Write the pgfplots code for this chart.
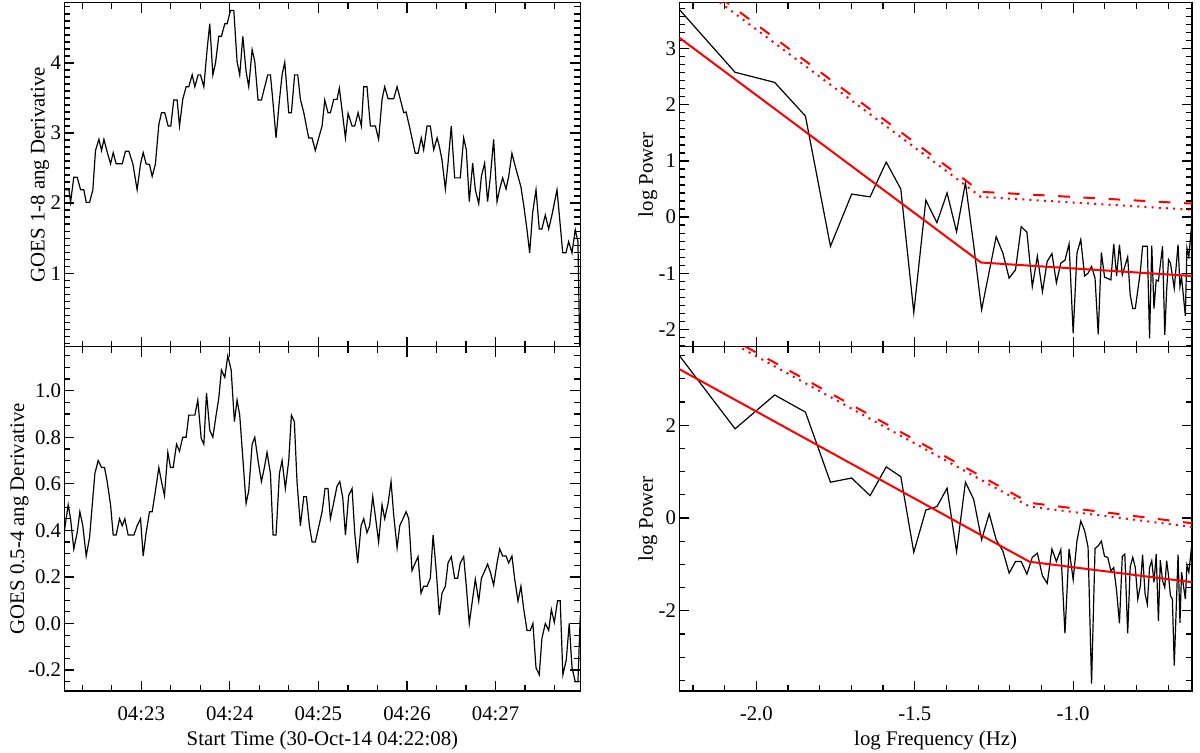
\documentclass[border=0pt]{standalone}
\usepackage{fontspec}
\setmainfont{Liberation Serif}
\usepackage{pgfplots}
\pgfplotsset{compat=1.18}
\pgfplotsset{
  panel/.style={
    scale only axis, anchor=south west,
    axis line style={line width=0.75pt},
    every tick/.style={black, line width=0.6pt},
    major tick length=5pt, minor tick length=3pt,
    tick align=inside,
    font=\fontsize{10.4}{12}\selectfont,
    yticklabel style={anchor=east, inner sep=0pt, xshift=-1.5pt},
    xticklabel style={anchor=base, inner sep=0pt, yshift=-14.5pt},
    xlabel style={at={(axis description cs:0.5,0)}, anchor=base, yshift=-27pt},
  },
  blk/.style={black, line width=0.6pt},
  fit/.style={red, line width=1pt},
  c95/.style={red, line width=1pt, dash pattern=on 5.8pt off 6.8pt},
  c99/.style={red, line width=1pt, dash pattern=on 1pt off 2.6pt},
}
\begin{document}
\begin{tikzpicture}
\path[use as bounding box] (0pt,0pt) rectangle (600pt,376pt);

% ---------------- left top ----------------
\begin{axis}[panel, at={(32.25pt,202.65pt)}, width=257.9pt, height=172pt,
  xmin=0, xmax=349.4, ymin=-0.05, ymax=4.86,
  xtick={52,112,172,232,292}, xticklabels={},
  minor xtick={12,32,72,92,132,152,192,212,252,272,312,332},
  ytick={1,2,3,4}, yticklabels={1,2,3,4},
  minor ytick={0,0.1,...,4.81},
  ylabel={GOES 1-8 ang Derivative},
  ylabel style={at={(axis description cs:-0.0475,0.5)}, anchor=center}]
\addplot[blk] coordinates {
(0,2.19)(3.0,2.19)(4.1,2.01)(6.3,2.37)(8.6,2.37)(10.9,2.19)(13.1,2.19)(14.7,2.01)(17.0,2.01)(19.2,2.19)
(21.0,2.75)(23.3,2.91)(25.1,2.75)(26.7,2.91)(28.9,2.73)(31.2,2.56)(33.0,2.72)(35.0,2.56)(39.1,2.56)(41.3,2.74)
(43.6,2.74)(46.3,2.56)(49.2,2.19)(51.5,2.56)(53.3,2.72)(55.3,2.56)(57.6,2.55)(59.4,2.38)(61.6,2.56)(63.9,3.12)
(65.7,3.29)(67.9,3.29)(70.2,3.10)(72.0,3.10)(74.0,3.47)(76.3,3.47)(77.9,3.10)(80.1,3.48)(82.4,3.66)(84.2,3.66)
(86.5,3.83)(88.3,3.66)(90.5,3.83)(92.1,3.83)(94.4,3.66)(96.6,4.19)(98.4,4.56)(100.5,3.83)(102.3,4.00)(104.5,4.38)
(106.3,4.38)(108.6,4.56)(110.2,4.56)(112.4,4.75)(114.7,4.75)(116.9,4.02)(118.7,3.83)(120.8,4.38)(123.0,3.88)(124.8,3.66)
(127.1,4.19)(128.9,4.02)(131.1,3.47)(133.4,3.47)(135.4,3.64)(137.7,3.83)(139.5,3.83)(141.1,3.47)(143.3,2.93)(145.6,3.47)
(147.4,3.83)(149.2,4.01)(151.9,3.29)(153.7,3.29)(155.9,3.83)(158.0,3.83)(159.8,3.48)(162.1,3.29)(165.4,2.93)(167.7,2.93)
(169.9,2.75)(172.2,2.93)(174.5,3.10)(176.3,3.47)(178.5,3.29)(180.1,3.29)(182.4,3.48)(184.6,3.48)(186.2,3.64)(190.3,2.93)
(192.1,3.28)(194.8,3.10)(196.6,3.10)(198.9,3.29)(201.1,3.10)(202.7,3.66)(204.9,3.66)(207.2,3.10)(210.6,3.10)(212.8,2.91)
(215.1,3.48)(216.9,3.66)(219.2,3.49)(223.0,3.49)(225.3,3.66)(227.5,3.48)(229.8,3.29)(231.4,3.30)(233.6,3.10)(237.6,2.71)
(239.5,2.71)(241.7,2.93)(243.3,2.76)(245.6,3.10)(247.8,3.10)(250.1,2.76)(252.4,2.93)(253.9,2.81)(255.7,2.62)(258.0,2.20)
(259.8,2.57)(262.0,3.10)(264.3,2.36)(268.1,2.36)(270.4,2.93)(272.2,2.76)(274.2,2.02)(276.5,2.57)(278.3,2.19)(280.6,1.99)
(282.4,2.38)(284.6,2.57)(286.6,2.02)(288.5,2.38)(290.7,2.91)(293.0,2.02)(294.8,2.20)(296.8,2.36)(299.1,2.20)(300.9,2.38)
(303.1,2.71)(305.4,2.52)(309.2,2.23)(311.0,1.98)(313.3,1.62)(315.1,1.29)(317.1,1.86)(319.4,2.19)(321.6,1.63)(323.4,1.63)
(325.7,1.83)(328.0,1.63)(330.2,1.83)(333.6,2.19)(335.2,1.83)(337.5,1.29)(339.7,1.29)(341.5,1.45)(343.8,1.29)(346.0,1.62)
(347.8,1.45)(349.0,-0.05)
};
\end{axis}

% ---------------- left bottom ----------------
\begin{axis}[panel, at={(32.25pt,30.5pt)}, width=257.9pt, height=172.15pt,
  xmin=0, xmax=349.4, ymin=-0.29, ymax=1.189,
  xtick={52,112,172,232,292}, xticklabels={04:23,04:24,04:25,04:26,04:27},
  minor xtick={12,32,72,92,132,152,192,212,252,272,312,332},
  ytick={-0.2,0,0.2,0.4,0.6,0.8,1.0}, yticklabels={-0.2,0.0,0.2,0.4,0.6,0.8,1.0},
  minor ytick={-0.25,-0.2,...,1.16},
  xlabel={Start Time (30-Oct-14 04:22:08)},
  ylabel={GOES 0.5-4 ang Derivative},
  ylabel style={at={(axis description cs:-0.0872,0.5)}, anchor=center}]
\addplot[blk] coordinates {
(0,0.40)(2.5,0.51)(4.1,0.45)(6.3,0.32)(8.6,0.39)(10.4,0.48)(12.4,0.42)(14.7,0.29)(17.0,0.37)(18.8,0.51)
(20.6,0.645)(22.8,0.70)(25.1,0.67)(27.1,0.67)(28.9,0.61)(31.2,0.51)(33.0,0.38)(35.0,0.38)(37.3,0.45)(39.1,0.42)
(40.9,0.45)(43.1,0.38)(47.0,0.38)(49.2,0.42)(51.5,0.45)(53.3,0.29)(55.3,0.39)(57.6,0.48)(59.4,0.48)(61.6,0.57)
(63.9,0.67)(65.7,0.61)(67.7,0.55)(70.0,0.735)(71.8,0.67)(73.6,0.67)(75.9,0.77)(77.9,0.74)(80.1,0.80)(82.4,0.80)
(84.2,0.895)(88.3,0.895)(90.3,0.96)(92.6,0.795)(94.4,0.77)(96.2,0.99)(98.4,0.83)(100.5,0.80)(102.7,0.895)(104.5,0.967)
(106.3,1.089)(108.6,1.057)(110.6,1.15)(112.9,1.089)(115.1,0.867)(116.9,0.96)(118.7,0.895)(120.8,0.71)(123.0,0.516)(124.8,0.57)
(127.1,0.77)(128.9,0.80)(131.1,0.70)(133.4,0.61)(135.4,0.67)(137.2,0.735)(139.5,0.645)(141.3,0.38)(143.3,0.38)(145.6,0.645)
(147.4,0.70)(149.6,0.58)(151.9,0.70)(153.7,0.895)(155.7,0.867)(157.5,0.61)(159.8,0.42)(162.1,0.545)(163.9,0.545)(165.9,0.42)
(167.7,0.35)(169.9,0.35)(172.2,0.415)(174.5,0.48)(176.5,0.58)(178.5,0.58)(180.1,0.45)(182.4,0.52)(184.6,0.59)(186.5,0.61)
(188.5,0.54)(190.3,0.38)(192.5,0.55)(194.8,0.58)(196.6,0.39)(198.6,0.26)(200.9,0.42)(202.7,0.45)(204.9,0.39)(206.7,0.42)
(208.8,0.545)(211.0,0.44)(212.8,0.35)(215.1,0.51)(216.9,0.45)(219.2,0.516)(221.2,0.61)(223.0,0.466)(225.3,0.325)(227.1,0.42)
(229.3,0.45)(231.4,0.48)(233.2,0.45)(235.4,0.227)(237.6,0.26)(239.5,0.287)(241.5,0.13)(243.3,0.16)(245.6,0.16)(247.8,0.194)
(249.7,0.38)(251.9,0.22)(253.9,0.036)(255.7,0.13)(258.0,0.16)(259.8,0.26)(262.0,0.287)(264.3,0.194)(266.3,0.194)(268.1,0.26)
(270.4,0.287)(272.2,0.16)(274.2,0.0)(276.5,0.108)(278.3,0.19)(280.6,0.096)(282.4,0.194)(284.6,0.225)(286.6,0.255)(288.5,0.22)
(290.7,0.165)(293.0,0.26)(294.8,0.32)(296.8,0.29)(299.1,0.29)(300.9,0.26)(303.1,0.29)(304.9,0.194)(307.2,0.096)(309.2,0.16)
(311.0,0.065)(313.3,-0.03)(315.5,-0.03)(317.3,0.0)(319.4,-0.19)(321.6,-0.22)(323.4,-0.064)(325.7,0.0)(328.0,-0.03)(329.8,0.06)
(331.8,0.005)(334.0,0.098)(335.8,0.098)(337.6,-0.22)(339.9,-0.157)(341.9,0.0)(343.8,-0.19)(346.0,-0.25)(347.8,-0.25)(349.4,0.036)
};
\end{axis}

% ---------------- right top ----------------
\begin{axis}[panel, at={(339.65pt,202.65pt)}, width=256.35pt, height=172pt,
  xmin=-2.243, xmax=-0.625, ymin=-2.31, ymax=3.82,
  xtick={-2,-1.5,-1}, xticklabels={},
  minor xtick={-2.2,-2.1,-1.9,-1.8,-1.7,-1.6,-1.4,-1.3,-1.2,-1.1,-0.9,-0.8,-0.7},
  ytick={-2,-1,0,1,2,3}, yticklabels={-2,-1,0,1,2,3},
  minor ytick={-2.2857,-2.1429,-1.8571,-1.7143,-1.5714,-1.4286,-1.2857,-1.1429,-0.8571,-0.7143,-0.5714,-0.4286,-0.2857,-0.1429,0.1429,0.2857,0.4286,0.5714,0.7143,0.8571,1.1429,1.2857,1.4286,1.5714,1.7143,1.8571,2.1429,2.2857,2.4286,2.5714,2.7143,2.8571,3.1429,3.2857,3.4286,3.5714,3.7143},
  ylabel={log Power},
  ylabel style={at={(axis description cs:-0.061,0.5)}, anchor=center}]
\addplot[blk] coordinates {
(-2.243,3.70)(-2.067,2.58)(-1.942,2.40)(-1.845,1.80)(-1.766,-0.52)(-1.699,0.41)(-1.641,0.36)(-1.590,0.98)(-1.544,0.50)(-1.503,-1.70)
(-1.465,0.30)(-1.430,-0.10)(-1.398,0.43)(-1.368,-0.26)(-1.340,0.61)(-1.314,-0.50)(-1.289,-1.65)(-1.243,-0.35)(-1.222,-0.64)(-1.202,-1.09)
(-1.182,-0.94)(-1.164,-0.17)(-1.146,-0.27)(-1.129,-1.24)(-1.113,-0.70)(-1.097,-1.33)(-1.082,-0.79)(-1.067,-0.65)(-1.053,-1.17)(-1.039,-0.82)
(-1.026,-0.77)(-1.013,-0.48)(-1.000,-2.07)(-0.988,-0.64)(-0.976,-0.40)(-0.964,-1.05)(-0.953,-1.00)(-0.942,-0.88)(-0.931,-1.09)(-0.921,-2.09)
(-0.911,-0.63)(-0.901,-1.07)(-0.881,-1.12)(-0.872,-0.48)(-0.863,-1.05)(-0.854,-0.49)(-0.845,-1.03)(-0.828,-0.71)(-0.820,-1.39)(-0.812,-1.63)
(-0.804,-1.63)(-0.788,-0.97)(-0.781,-0.52)(-0.766,-0.52)(-0.759,-2.16)(-0.752,-0.51)(-0.745,-1.63)(-0.738,-1.12)(-0.731,-1.14)(-0.718,-0.52)
(-0.711,-2.10)(-0.705,-1.30)(-0.699,-0.76)(-0.693,-0.82)(-0.681,-1.27)(-0.669,-0.49)(-0.663,-1.24)(-0.658,-1.07)(-0.646,-1.76)(-0.641,-0.55)
(-0.635,-0.70)(-0.625,-0.08)
};
\addplot[fit] coordinates {(-2.243,3.196)(-1.291,-0.81)(-0.625,-1.05)};
\addplot[c95] coordinates {(-2.243,4.456)(-1.291,0.45)(-0.625,0.24)};
\addplot[c99] coordinates {(-2.243,4.366)(-1.291,0.36)(-0.625,0.13)};
\end{axis}

% ---------------- right bottom ----------------
\begin{axis}[panel, at={(339.65pt,30.5pt)}, width=256.35pt, height=172.15pt,
  xmin=-2.243, xmax=-0.625, ymin=-3.73, ymax=3.69,
  xtick={-2,-1.5,-1}, xticklabels={-2.0,-1.5,-1.0},
  minor xtick={-2.2,-2.1,-1.9,-1.8,-1.7,-1.6,-1.4,-1.3,-1.2,-1.1,-0.9,-0.8,-0.7},
  ytick={-2,0,2}, yticklabels={-2,0,2},
  minor ytick={-3.5,-3,...,3.5},
  xlabel={log Frequency (Hz)},
  ylabel={log Power},
  ylabel style={at={(axis description cs:-0.061,0.5)}, anchor=center}]
\addplot[blk] coordinates {
(-2.243,3.50)(-2.067,1.92)(-1.942,2.65)(-1.845,2.28)(-1.766,0.77)(-1.699,0.86)(-1.641,0.48)(-1.590,1.10)(-1.544,0.89)(-1.503,-0.74)
(-1.465,0.17)(-1.430,0.245)(-1.398,0.64)(-1.368,-0.73)(-1.340,0.77)(-1.314,0.40)(-1.289,-0.47)(-1.265,0.09)(-1.243,-0.47)(-1.222,-0.71)
(-1.202,-1.19)(-1.182,-0.94)(-1.164,-0.94)(-1.146,-1.21)(-1.129,-0.85)(-1.113,-0.76)(-1.097,-1.25)(-1.082,-1.41)(-1.067,-0.67)(-1.053,-0.94)
(-1.039,-0.68)(-1.026,-2.49)(-1.013,-0.67)(-1.000,-1.33)(-0.988,-0.49)(-0.976,-0.07)(-0.964,-0.27)(-0.953,-0.63)(-0.942,-3.57)(-0.931,-0.66)
(-0.921,-0.60)(-0.911,-0.50)(-0.901,-0.83)(-0.891,-0.85)(-0.881,-1.14)(-0.872,-1.07)(-0.863,-1.57)(-0.854,-2.27)(-0.845,-0.83)(-0.837,-0.78)
(-0.828,-2.49)(-0.820,-1.05)(-0.812,-0.85)(-0.804,-1.07)(-0.796,-1.75)(-0.788,-1.46)(-0.781,-0.79)(-0.773,-1.64)(-0.766,-1.86)(-0.759,-1.07)
(-0.752,-0.92)(-0.745,-1.39)(-0.738,-0.78)(-0.731,-2.22)(-0.725,-0.91)(-0.718,-1.35)(-0.711,-1.50)(-0.705,-0.92)(-0.699,-1.25)(-0.693,-1.68)
(-0.687,-1.75)(-0.681,-3.18)(-0.669,-0.79)(-0.663,-2.26)(-0.658,-1.17)(-0.646,-1.75)(-0.641,-1.02)(-0.635,-1.17)(-0.625,-0.53)
};
\addplot[fit] coordinates {(-2.243,3.207)(-1.138,-0.944)(-0.625,-1.385)};
\addplot[c95] coordinates {(-2.243,4.477)(-1.138,0.326)(-0.625,-0.115)};
\addplot[c99] coordinates {(-2.243,4.397)(-1.138,0.246)(-0.625,-0.195)};
\end{axis}
\end{tikzpicture}
\end{document}
